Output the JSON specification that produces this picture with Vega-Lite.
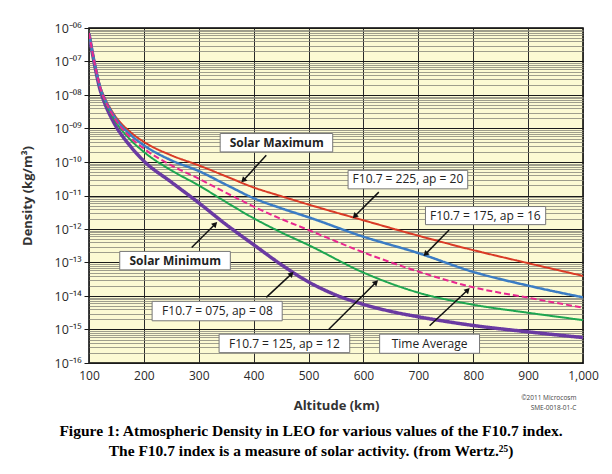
{
  "$schema": "https://vega.github.io/schema/vega-lite/v6.json",
  "width": 494,
  "height": 335,
  "autosize": {"type": "none"},
  "padding": {"left": 89, "top": 28, "right": 29, "bottom": 111},
  "background": "white",
  "title": {
    "text": ["Figure 1: Atmospheric Density in LEO for various values of the F10.7 index.", "The F10.7 index is a measure of solar activity. (from Wertz.²⁵)"],
    "orient": "bottom",
    "anchor": "middle",
    "frame": "group",
    "font": "Liberation Serif",
    "fontWeight": "bold",
    "fontSize": 15.5,
    "lineHeight": 20,
    "color": "#000",
    "offset": 12,
    "dx": -25
  },
  "datasets": {
    "curves": [
      {"series": "F10.7 = 075, ap = 08", "altitude": 100, "density": 6.61e-7},
      {"series": "F10.7 = 075, ap = 08", "altitude": 110, "density": 8.32e-8},
      {"series": "F10.7 = 075, ap = 08", "altitude": 120, "density": 1.48e-8},
      {"series": "F10.7 = 075, ap = 08", "altitude": 130, "density": 5.01e-9},
      {"series": "F10.7 = 075, ap = 08", "altitude": 140, "density": 2.19e-9},
      {"series": "F10.7 = 075, ap = 08", "altitude": 150, "density": 1.10e-9},
      {"series": "F10.7 = 075, ap = 08", "altitude": 175, "density": 3.02e-10},
      {"series": "F10.7 = 075, ap = 08", "altitude": 200, "density": 1.07e-10},
      {"series": "F10.7 = 075, ap = 08", "altitude": 250, "density": 2.51e-11},
      {"series": "F10.7 = 075, ap = 08", "altitude": 300, "density": 6.03e-12},
      {"series": "F10.7 = 075, ap = 08", "altitude": 350, "density": 1.35e-12},
      {"series": "F10.7 = 075, ap = 08", "altitude": 400, "density": 3.39e-13},
      {"series": "F10.7 = 075, ap = 08", "altitude": 450, "density": 8.71e-14},
      {"series": "F10.7 = 075, ap = 08", "altitude": 500, "density": 2.63e-14},
      {"series": "F10.7 = 075, ap = 08", "altitude": 550, "density": 1.07e-14},
      {"series": "F10.7 = 075, ap = 08", "altitude": 600, "density": 5.62e-15},
      {"series": "F10.7 = 075, ap = 08", "altitude": 650, "density": 3.47e-15},
      {"series": "F10.7 = 075, ap = 08", "altitude": 700, "density": 2.40e-15},
      {"series": "F10.7 = 075, ap = 08", "altitude": 800, "density": 1.32e-15},
      {"series": "F10.7 = 075, ap = 08", "altitude": 900, "density": 8.51e-16},
      {"series": "F10.7 = 075, ap = 08", "altitude": 1000, "density": 5.75e-16},

      {"series": "F10.7 = 125, ap = 12", "altitude": 100, "density": 7.08e-7},
      {"series": "F10.7 = 125, ap = 12", "altitude": 110, "density": 8.91e-8},
      {"series": "F10.7 = 125, ap = 12", "altitude": 120, "density": 1.66e-8},
      {"series": "F10.7 = 125, ap = 12", "altitude": 130, "density": 6.03e-9},
      {"series": "F10.7 = 125, ap = 12", "altitude": 140, "density": 2.82e-9},
      {"series": "F10.7 = 125, ap = 12", "altitude": 150, "density": 1.48e-9},
      {"series": "F10.7 = 125, ap = 12", "altitude": 175, "density": 4.68e-10},
      {"series": "F10.7 = 125, ap = 12", "altitude": 200, "density": 2.0e-10},
      {"series": "F10.7 = 125, ap = 12", "altitude": 250, "density": 5.62e-11},
      {"series": "F10.7 = 125, ap = 12", "altitude": 300, "density": 2.0e-11},
      {"series": "F10.7 = 125, ap = 12", "altitude": 350, "density": 6.31e-12},
      {"series": "F10.7 = 125, ap = 12", "altitude": 400, "density": 2.09e-12},
      {"series": "F10.7 = 125, ap = 12", "altitude": 450, "density": 7.94e-13},
      {"series": "F10.7 = 125, ap = 12", "altitude": 500, "density": 3.31e-13},
      {"series": "F10.7 = 125, ap = 12", "altitude": 600, "density": 5.01e-14},
      {"series": "F10.7 = 125, ap = 12", "altitude": 700, "density": 1.26e-14},
      {"series": "F10.7 = 125, ap = 12", "altitude": 800, "density": 5.50e-15},
      {"series": "F10.7 = 125, ap = 12", "altitude": 900, "density": 3.16e-15},
      {"series": "F10.7 = 125, ap = 12", "altitude": 1000, "density": 1.91e-15},

      {"series": "F10.7 = 225, ap = 20", "altitude": 100, "density": 7.08e-7},
      {"series": "F10.7 = 225, ap = 20", "altitude": 110, "density": 9.55e-8},
      {"series": "F10.7 = 225, ap = 20", "altitude": 120, "density": 1.91e-8},
      {"series": "F10.7 = 225, ap = 20", "altitude": 130, "density": 7.41e-9},
      {"series": "F10.7 = 225, ap = 20", "altitude": 140, "density": 3.72e-9},
      {"series": "F10.7 = 225, ap = 20", "altitude": 150, "density": 2.09e-9},
      {"series": "F10.7 = 225, ap = 20", "altitude": 175, "density": 7.94e-10},
      {"series": "F10.7 = 225, ap = 20", "altitude": 200, "density": 3.98e-10},
      {"series": "F10.7 = 225, ap = 20", "altitude": 250, "density": 1.58e-10},
      {"series": "F10.7 = 225, ap = 20", "altitude": 300, "density": 7.94e-11},
      {"series": "F10.7 = 225, ap = 20", "altitude": 350, "density": 3.72e-11},
      {"series": "F10.7 = 225, ap = 20", "altitude": 400, "density": 1.74e-11},
      {"series": "F10.7 = 225, ap = 20", "altitude": 450, "density": 9.55e-12},
      {"series": "F10.7 = 225, ap = 20", "altitude": 500, "density": 5.37e-12},
      {"series": "F10.7 = 225, ap = 20", "altitude": 600, "density": 1.82e-12},
      {"series": "F10.7 = 225, ap = 20", "altitude": 700, "density": 6.31e-13},
      {"series": "F10.7 = 225, ap = 20", "altitude": 800, "density": 2.34e-13},
      {"series": "F10.7 = 225, ap = 20", "altitude": 900, "density": 9.55e-14},
      {"series": "F10.7 = 225, ap = 20", "altitude": 1000, "density": 3.98e-14},

      {"series": "F10.7 = 175, ap = 16", "altitude": 100, "density": 7.08e-7},
      {"series": "F10.7 = 175, ap = 16", "altitude": 110, "density": 9.33e-8},
      {"series": "F10.7 = 175, ap = 16", "altitude": 120, "density": 1.82e-8},
      {"series": "F10.7 = 175, ap = 16", "altitude": 130, "density": 6.92e-9},
      {"series": "F10.7 = 175, ap = 16", "altitude": 140, "density": 3.39e-9},
      {"series": "F10.7 = 175, ap = 16", "altitude": 150, "density": 1.86e-9},
      {"series": "F10.7 = 175, ap = 16", "altitude": 175, "density": 6.61e-10},
      {"series": "F10.7 = 175, ap = 16", "altitude": 200, "density": 3.16e-10},
      {"series": "F10.7 = 175, ap = 16", "altitude": 250, "density": 1.12e-10},
      {"series": "F10.7 = 175, ap = 16", "altitude": 300, "density": 5.37e-11},
      {"series": "F10.7 = 175, ap = 16", "altitude": 350, "density": 2.09e-11},
      {"series": "F10.7 = 175, ap = 16", "altitude": 400, "density": 8.32e-12},
      {"series": "F10.7 = 175, ap = 16", "altitude": 450, "density": 4.17e-12},
      {"series": "F10.7 = 175, ap = 16", "altitude": 500, "density": 2.24e-12},
      {"series": "F10.7 = 175, ap = 16", "altitude": 600, "density": 5.89e-13},
      {"series": "F10.7 = 175, ap = 16", "altitude": 700, "density": 1.91e-13},
      {"series": "F10.7 = 175, ap = 16", "altitude": 800, "density": 5.25e-14},
      {"series": "F10.7 = 175, ap = 16", "altitude": 900, "density": 2.04e-14},
      {"series": "F10.7 = 175, ap = 16", "altitude": 1000, "density": 9.12e-15},

      {"series": "Time Average", "altitude": 100, "density": 7.08e-7},
      {"series": "Time Average", "altitude": 110, "density": 9.12e-8},
      {"series": "Time Average", "altitude": 120, "density": 1.74e-8},
      {"series": "Time Average", "altitude": 130, "density": 6.46e-9},
      {"series": "Time Average", "altitude": 140, "density": 3.09e-9},
      {"series": "Time Average", "altitude": 150, "density": 1.66e-9},
      {"series": "Time Average", "altitude": 175, "density": 5.50e-10},
      {"series": "Time Average", "altitude": 200, "density": 2.51e-10},
      {"series": "Time Average", "altitude": 250, "density": 7.94e-11},
      {"series": "Time Average", "altitude": 300, "density": 3.16e-11},
      {"series": "Time Average", "altitude": 350, "density": 1.20e-11},
      {"series": "Time Average", "altitude": 400, "density": 4.68e-12},
      {"series": "Time Average", "altitude": 450, "density": 2.0e-12},
      {"series": "Time Average", "altitude": 500, "density": 9.33e-13},
      {"series": "Time Average", "altitude": 600, "density": 2.0e-13},
      {"series": "Time Average", "altitude": 700, "density": 5.37e-14},
      {"series": "Time Average", "altitude": 800, "density": 1.82e-14},
      {"series": "Time Average", "altitude": 900, "density": 8.91e-15},
      {"series": "Time Average", "altitude": 1000, "density": 4.47e-15}
    ],
    "notes": [
      {"label": "Solar Maximum", "kind": "bold", "bx1": 339, "bx2": 544, "by1": 7.08e-10, "by2": 2.0e-10, "tx": 442, "ty": 3.72e-10, "ax1": 423, "ay1": 1.58e-10, "ax2": 381, "ay2": 2.82e-11},
      {"label": "Solar Minimum", "kind": "bold", "bx1": 156, "bx2": 357.5, "by1": 2.14e-13, "by2": 6.03e-14, "tx": 257, "ty": 1.12e-13, "ax1": 287, "ay1": 2.82e-13, "ax2": 330, "ay2": 1.41e-12},
      {"label": "F10.7 = 225, ap = 20", "kind": "plain", "bx1": 572, "bx2": 790, "by1": 5.62e-11, "by2": 1.58e-11, "tx": 681, "ty": 3.02e-11, "ax1": 628, "ay1": 1.26e-11, "ax2": 584, "ay2": 2.40e-12},
      {"label": "F10.7 = 175, ap = 16", "kind": "plain", "bx1": 713, "bx2": 932, "by1": 4.68e-12, "by2": 1.35e-12, "tx": 822, "ty": 2.51e-12, "ax1": 756, "ay1": 9.33e-13, "ax2": 713, "ay2": 1.78e-13},
      {"label": "F10.7 = 075, ap = 08", "kind": "plain", "bx1": 215, "bx2": 452, "by1": 6.92e-15, "by2": 1.82e-15, "tx": 334, "ty": 3.55e-15, "ax1": 423, "ay1": 9.12e-15, "ax2": 469, "ay2": 4.57e-14},
      {"label": "F10.7 = 125, ap = 12", "kind": "plain", "bx1": 337, "bx2": 575, "by1": 7.24e-16, "by2": 2.04e-16, "tx": 456, "ty": 3.80e-16, "ax1": 537, "ay1": 1.02e-15, "ax2": 623, "ay2": 2.57e-14},
      {"label": "Time Average", "kind": "spaced", "bx1": 629.5, "bx2": 811.5, "by1": 7.24e-16, "by2": 1.95e-16, "tx": 720.5, "ty": 3.72e-16, "ax1": 720.5, "ay1": 1.29e-15, "ax2": 790, "ay2": 1.51e-14}
    ],
    "credit": [
      {"text": "©2011 Microcosm", "altitude": 988, "density": 8.91e-18},
      {"text": "SME-0018-01-C", "altitude": 988, "density": 4.47e-18}
    ]
  },
  "layer": [
    {
      "data": {"name": "curves"},
      "mark": {"type": "line", "interpolate": "monotone", "clip": true},
      "encoding": {
        "x": {
          "field": "altitude", "type": "quantitative",
          "scale": {"domain": [100, 1000], "nice": false, "zero": false},
          "axis": {
            "title": "Altitude (km)",
            "values": [100, 200, 300, 400, 500, 600, 700, 800, 900, 1000],
            "labelExpr": "format(datum.value, ',')",
            "grid": true, "gridColor": "#2a2a2a", "gridWidth": 1, "gridOpacity": 1,
            "ticks": false, "domain": false,
            "labelFont": "Open Sans", "labelFontSize": 12, "labelColor": "#2a2a2a",
            "labelPadding": 7, "labelFlush": false,
            "titleFont": "Open Sans", "titleFontSize": 13, "titleFontWeight": "bold", "titleColor": "#333",
            "titlePadding": 18
          }
        },
        "y": {
          "field": "density", "type": "quantitative",
          "scale": {"type": "log", "domain": [1e-16, 1e-6], "nice": false},
          "axis": {
            "title": "Density (kg/m³)",
            "values": [1e-16,2e-16,3e-16,4e-16,5e-16,6e-16,7e-16,8e-16,9e-16,
                       1e-15,2e-15,3e-15,4e-15,5e-15,6e-15,7e-15,8e-15,9e-15,
                       1e-14,2e-14,3e-14,4e-14,5e-14,6e-14,7e-14,8e-14,9e-14,
                       1e-13,2e-13,3e-13,4e-13,5e-13,6e-13,7e-13,8e-13,9e-13,
                       1e-12,2e-12,3e-12,4e-12,5e-12,6e-12,7e-12,8e-12,9e-12,
                       1e-11,2e-11,3e-11,4e-11,5e-11,6e-11,7e-11,8e-11,9e-11,
                       1e-10,2e-10,3e-10,4e-10,5e-10,6e-10,7e-10,8e-10,9e-10,
                       1e-9,2e-9,3e-9,4e-9,5e-9,6e-9,7e-9,8e-9,9e-9,
                       1e-8,2e-8,3e-8,4e-8,5e-8,6e-8,7e-8,8e-8,9e-8,
                       1e-7,2e-7,3e-7,4e-7,5e-7,6e-7,7e-7,8e-7,9e-7,1e-6],
            "labelExpr": "abs(log(datum.value)/LN10 - round(log(datum.value)/LN10)) < 0.01 ? '10⁻' + substring('⁰¹²³⁴⁵⁶⁷⁸⁹', floor(-round(log(datum.value)/LN10)/10), floor(-round(log(datum.value)/LN10)/10)+1) + substring('⁰¹²³⁴⁵⁶⁷⁸⁹', (-round(log(datum.value)/LN10))%10, (-round(log(datum.value)/LN10))%10+1) : ''",
            "labelOverlap": false, "labelFlush": false, "labelBound": false,
            "grid": true,
            "gridColor": {"condition": {"test": "abs(log(datum.value)/LN10 - round(log(datum.value)/LN10)) < 0.01", "value": "#1a1a1a"}, "value": "#86867a"},
            "gridWidth": {"condition": {"test": "abs(log(datum.value)/LN10 - round(log(datum.value)/LN10)) < 0.01", "value": 1}, "value": 0.8},
            "gridOpacity": 1,
            "tickColor": {"condition": {"test": "abs(log(datum.value)/LN10 - round(log(datum.value)/LN10)) < 0.01", "value": "#1a1a1a"}, "value": "transparent"},
            "tickSize": 5, "tickWidth": 1,
            "domain": false,
            "labelFont": "Open Sans", "labelFontSize": 12.5, "labelColor": "#2a2a2a", "labelPadding": 3,
            "titleFont": "Open Sans", "titleFontSize": 13, "titleFontWeight": "bold", "titleColor": "#333",
            "titlePadding": 20
          }
        },
        "color": {
          "field": "series", "type": "nominal", "legend": null,
          "scale": {
            "domain": ["F10.7 = 075, ap = 08", "F10.7 = 125, ap = 12", "F10.7 = 225, ap = 20", "F10.7 = 175, ap = 16", "Time Average"],
            "range": ["#6a3aa2", "#1ea650", "#d93a26", "#3b7cc4", "#e8278f"]
          }
        },
        "strokeWidth": {
          "field": "series", "type": "nominal", "legend": null,
          "scale": {
            "type": "ordinal",
            "domain": ["F10.7 = 075, ap = 08", "F10.7 = 125, ap = 12", "F10.7 = 225, ap = 20", "F10.7 = 175, ap = 16", "Time Average"],
            "range": [3.5, 2, 2, 2.5, 2]
          }
        },
        "strokeDash": {
          "field": "series", "type": "nominal", "legend": null,
          "scale": {
            "domain": ["F10.7 = 075, ap = 08", "F10.7 = 125, ap = 12", "F10.7 = 225, ap = 20", "F10.7 = 175, ap = 16", "Time Average"],
            "range": [[1, 0], [1, 0], [1, 0], [1, 0], [6, 3]]
          }
        }
      }
    },
    {
      "data": {"name": "notes"},
      "mark": {"type": "rect", "fill": "white", "stroke": "#777", "strokeWidth": 1},
      "encoding": {
        "x": {"field": "bx1", "type": "quantitative"},
        "x2": {"field": "bx2"},
        "y": {"field": "by1", "type": "quantitative", "scale": {"type": "log"}},
        "y2": {"field": "by2"}
      }
    },
    {
      "data": {"name": "notes"},
      "transform": [{"filter": "datum.kind == 'bold'"}],
      "mark": {"type": "text", "font": "Open Sans", "fontWeight": "bold", "fontSize": 12, "letterSpacing": 1.7, "color": "#222", "align": "center", "baseline": "middle"},
      "encoding": {
        "x": {"field": "tx", "type": "quantitative"},
        "y": {"field": "ty", "type": "quantitative", "scale": {"type": "log"}},
        "text": {"field": "label"}
      }
    },
    {
      "data": {"name": "notes"},
      "transform": [{"filter": "datum.kind == 'plain'"}],
      "mark": {"type": "text", "font": "Open Sans", "fontSize": 12, "color": "#222", "align": "center", "baseline": "middle"},
      "encoding": {
        "x": {"field": "tx", "type": "quantitative"},
        "y": {"field": "ty", "type": "quantitative", "scale": {"type": "log"}},
        "text": {"field": "label"}
      }
    },
    {
      "data": {"name": "notes"},
      "transform": [{"filter": "datum.kind == 'spaced'"}],
      "mark": {"type": "text", "font": "Open Sans", "fontSize": 12, "letterSpacing": 1.8, "color": "#222", "align": "center", "baseline": "middle"},
      "encoding": {
        "x": {"field": "tx", "type": "quantitative"},
        "y": {"field": "ty", "type": "quantitative", "scale": {"type": "log"}},
        "text": {"field": "label"}
      }
    },
    {
      "data": {"name": "notes"},
      "mark": {"type": "rule", "color": "#111", "strokeWidth": 1.5},
      "encoding": {
        "x": {"field": "ax1", "type": "quantitative"},
        "x2": {"field": "ax2"},
        "y": {"field": "ay1", "type": "quantitative", "scale": {"type": "log"}},
        "y2": {"field": "ay2"}
      }
    },
    {
      "data": {"name": "notes"},
      "transform": [{"filter": "datum.ay2 < datum.ay1"}],
      "mark": {"type": "point", "shape": "triangle-up", "size": 40, "filled": true, "color": "#111", "opacity": 1, "angle": 225},
      "encoding": {
        "x": {"field": "ax2", "type": "quantitative"},
        "y": {"field": "ay2", "type": "quantitative", "scale": {"type": "log"}}
      }
    },
    {
      "data": {"name": "notes"},
      "transform": [{"filter": "datum.ay2 > datum.ay1"}],
      "mark": {"type": "point", "shape": "triangle-up", "size": 40, "filled": true, "color": "#111", "opacity": 1, "angle": 45},
      "encoding": {
        "x": {"field": "ax2", "type": "quantitative"},
        "y": {"field": "ay2", "type": "quantitative", "scale": {"type": "log"}}
      }
    },
    {
      "data": {"name": "credit"},
      "mark": {"type": "text", "font": "Open Sans", "fontSize": 6.5, "color": "#444", "align": "right", "baseline": "middle"},
      "encoding": {
        "x": {"field": "altitude", "type": "quantitative"},
        "y": {"field": "density", "type": "quantitative", "scale": {"type": "log"}},
        "text": {"field": "text"}
      }
    }
  ],
  "config": {
    "view": {"fill": "#fcfad3", "stroke": "#000", "strokeWidth": 1.5}
  }
}
